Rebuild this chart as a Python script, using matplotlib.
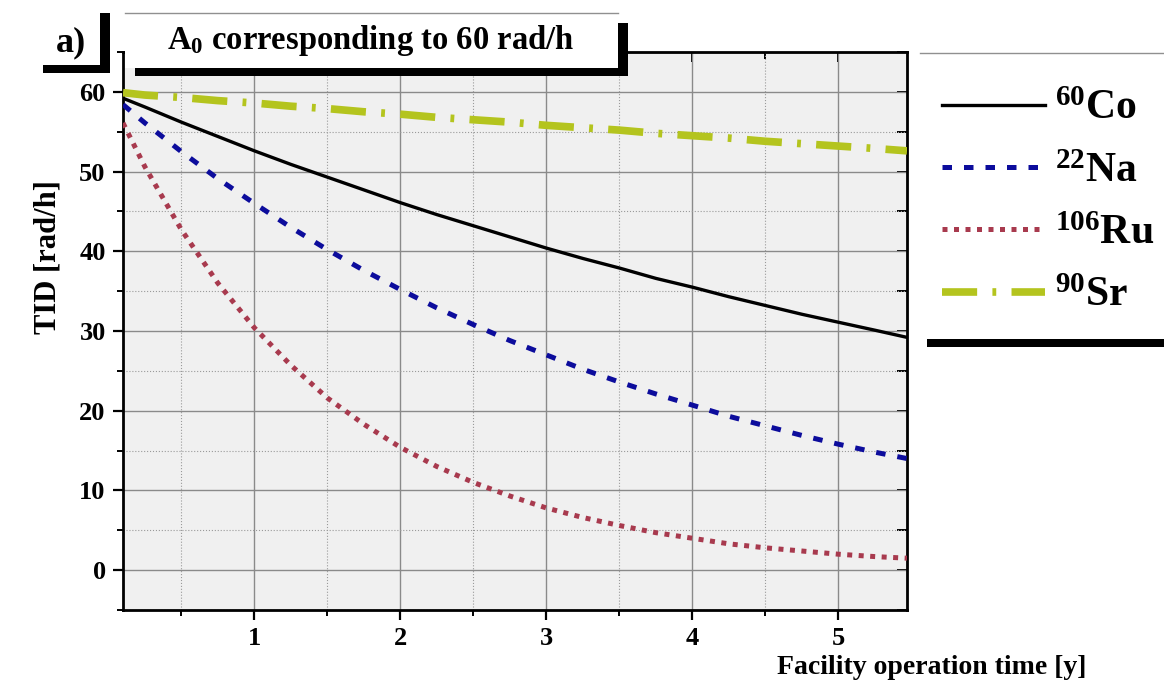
import matplotlib
matplotlib.use('Agg')
import matplotlib.pyplot as plt
from matplotlib.patches import Rectangle
from matplotlib.lines import Line2D
from matplotlib.ticker import MultipleLocator

plt.rcParams['font.family'] = ['Liberation Serif', 'DejaVu Serif']
plt.rcParams['font.weight'] = 'bold'
plt.rcParams['mathtext.fontset'] = 'custom'
plt.rcParams['mathtext.rm'] = 'Liberation Serif:bold'
plt.rcParams['mathtext.bf'] = 'Liberation Serif:bold'
plt.rcParams['mathtext.it'] = 'Liberation Serif:bold:italic'
plt.rcParams['mathtext.default'] = 'bf'

# time axis [y]
t = [0.1, 0.25, 0.5, 0.75, 1.0, 1.25, 1.5, 1.75, 2.0, 2.25, 2.5, 2.75,
     3.0, 3.25, 3.5, 3.75, 4.0, 4.25, 4.5, 4.75, 5.0, 5.25, 5.47]

# TID values [rad/h]
co60 = [59.2, 58.1, 56.2, 54.4, 52.6, 50.9, 49.3, 47.7, 46.1, 44.6, 43.2, 41.8,
        40.4, 39.1, 37.9, 36.6, 35.5, 34.3, 33.2, 32.1, 31.1, 30.1, 29.2]
na22 = [58.4, 56.1, 52.5, 49.1, 46.0, 43.0, 40.2, 37.6, 35.2, 32.9, 30.8, 28.8,
        27.0, 25.2, 23.6, 22.1, 20.7, 19.3, 18.1, 16.9, 15.8, 14.8, 14.0]
ru106 = [56.1, 50.6, 42.7, 36.0, 30.4, 25.7, 21.6, 18.3, 15.4, 13.0, 11.0, 9.3,
         7.8, 6.6, 5.6, 4.7, 4.0, 3.3, 2.8, 2.4, 2.0, 1.7, 1.5]
sr90 = [59.9, 59.6, 59.3, 58.9, 58.6, 58.2, 57.9, 57.5, 57.2, 56.8, 56.5, 56.2,
        55.8, 55.5, 55.2, 54.8, 54.5, 54.2, 53.8, 53.5, 53.2, 52.9, 52.6]

labels = [r'$^{60}$Co', r'$^{22}$Na', r'$^{106}$Ru', r'$^{90}$Sr']

W, H = 1164, 689
fig = plt.figure(figsize=(W / 100, H / 100), dpi=100)


def fx(p):
    return p / W


def fy(p):
    return 1 - p / H


def box(x0, y0, x1, y1, color, z):
    fig.add_artist(Rectangle((fx(x0), fy(y1)), (x1 - x0) / W, (y1 - y0) / H,
                             transform=fig.transFigure, facecolor=color,
                             edgecolor='none', zorder=z))


ax = fig.add_axes([fx(123), fy(610), (907 - 123) / W, (610 - 52) / H])
ax.set_facecolor('#f0f0f0')

l1, = ax.plot(t, co60, color='black', lw=2.4, zorder=5)
l2, = ax.plot(t, na22, color='#0c0c9c', lw=3.6, dashes=(1.9, 2.4), zorder=5)
l3, = ax.plot(t, ru106, color='#a83a4e', lw=3.6, dashes=(1.0, 1.3), zorder=5)
l4, = ax.plot(t, sr90, color='#b4c41e', lw=5.5, dashes=(4.6, 2.0, 0.5, 2.0), zorder=5)
for ln in (l2, l3):
    ln.set_dash_capstyle('butt')

ax.set_xlim(0.1, 5.47)
ax.set_ylim(-5, 65)
ax.xaxis.set_major_locator(MultipleLocator(1))
ax.xaxis.set_minor_locator(MultipleLocator(0.5))
ax.yaxis.set_major_locator(MultipleLocator(10))
ax.yaxis.set_minor_locator(MultipleLocator(5))
ax.grid(which='major', color='#8a8a8a', lw=1.0, ls='-')
ax.grid(which='minor', color='#9a9a9a', lw=0.8, ls=':')
ax.set_axisbelow(True)

for s in ax.spines.values():
    s.set_linewidth(2.0)
ax.tick_params(which='major', length=7.5, width=1.6, labelsize=19, pad=5)
ax.tick_params(which='minor', length=4, width=1.4)
ax.tick_params(axis='x', pad=5)

top = ax.secondary_xaxis('top')
top.xaxis.set_major_locator(MultipleLocator(1))
top.xaxis.set_minor_locator(MultipleLocator(0.5))
top.tick_params(which='both', direction='in', labeltop=False)
top.tick_params(which='major', length=7, width=1.4)
top.tick_params(which='minor', length=5, width=1.4)
right = ax.secondary_yaxis('right')
right.yaxis.set_major_locator(MultipleLocator(10))
right.yaxis.set_minor_locator(MultipleLocator(5))
right.tick_params(which='both', direction='in', labelright=False, length=7, width=1.4)

fig.text(fx(48), fy(257), 'TID [rad/h]', rotation=90, ha='center', va='center',
         fontsize=22, fontweight='bold')
fig.text(fx(932), fy(667), 'Facility operation time [y]', ha='center', va='center',
         fontsize=20, fontweight='bold')

# title box with shadow
box(135, 23, 628, 76, 'black', 3)
box(125, 13, 618, 68, 'white', 3.1)
fig.add_artist(Line2D([fx(125), fx(618)], [fy(13), fy(13)], color='#909090', lw=1,
                      transform=fig.transFigure, zorder=3.2))
fig.text(fx(371), fy(41), r'A$_{0}$ corresponding to 60 rad/h', ha='center', va='center',
         fontsize=23.5, fontweight='bold', zorder=4)

# panel label box
box(43, 13, 110, 73, 'black', 3)
box(30, 0, 100, 65, 'white', 3.1)
fig.text(fx(71), fy(43), 'a)', ha='center', va='center', fontsize=26,
         fontweight='bold', zorder=4)

# legend box
box(927, 60, 1170, 347, 'black', 3)
box(920, 53, 1170, 339, 'white', 3.1)
fig.add_artist(Line2D([fx(920), fx(1164)], [fy(53), fy(53)], color='#909090', lw=1,
                      transform=fig.transFigure, zorder=3.2))
leg = fig.legend([l1, l2, l3, l4], labels, loc='upper left',
                 bbox_to_anchor=(fx(942), fy(90)), frameon=False,
                 prop={'family': 'Liberation Serif', 'weight': 'bold', 'size': 30},
                 handlelength=2.47, handletextpad=0.24, labelspacing=0.58,
                 borderpad=0, borderaxespad=0)
leg.set_zorder(5)

plt.savefig('out.png', dpi=100)
